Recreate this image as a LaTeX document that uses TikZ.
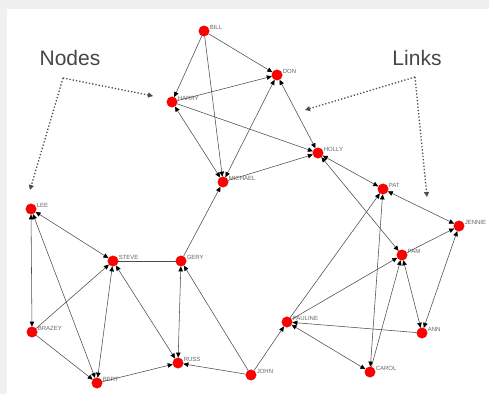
\documentclass[tikz,border=0pt]{standalone}
\usepackage{fontspec}
\setsansfont{Liberation Sans}
\usepackage{xcolor}
\usetikzlibrary{arrows.meta, positioning}

\begin{document}
\begin{tikzpicture}[
    x=1pt, y=-1pt,
    dot/.style={circle, fill=red, draw=red!85!black, line width=0.3pt, inner sep=0pt, minimum width=10.5pt},
    lbl/.style={font=\sffamily\fontsize{6}{7}\selectfont, text=gray!80!black, inner sep=0.3pt},
    lnk/.style={draw=gray!60!black, line width=0.55pt, -{Triangle[length=5pt, width=4.5pt, black]}},
    lnkb/.style={draw=gray!60!black, line width=0.55pt, {Triangle[length=5pt, width=4.5pt, black]}-{Triangle[length=5pt, width=4.5pt, black]}},
    plain/.style={draw=gray!60!black, line width=0.55pt},
    title/.style={font=\sffamily\fontsize{21}{24}\selectfont, text=gray!55!black},
    pointer/.style={draw=gray!60!black, line width=1.3pt, dotted, -{Triangle[length=5pt, width=5pt]}}
  ]
  \useasboundingbox (0,0) rectangle (489,394);
  \fill[gray!12] (0,0) rectangle (489,394);
  \fill[white] (7,9) rectangle (489,394);

  % People
  \node[dot, label={[lbl]10:BILL}]    (bill)    at (204, 31) {};
  \node[dot, label={[lbl]10:DON}]     (don)     at (277, 75) {};
  \node[dot, label={[lbl]10:HARRY}]   (harry)   at (172,102) {};
  \node[dot, label={[lbl]10:HOLLY}]   (holly)   at (318,153) {};
  \node[dot, label={[lbl]10:MICHAEL}] (michael) at (223,182) {};
  \node[dot, label={[lbl]10:PAT}]     (pat)     at (383,189) {};
  \node[dot, label={[lbl]10:JENNIE}]  (jennie)  at (459,226) {};
  \node[dot, label={[lbl]10:LEE}]     (lee)     at ( 31,209) {};
  \node[dot, label={[lbl]10:STEVE}]   (steve)   at (113,261) {};
  \node[dot, label={[lbl]10:GERY}]    (gery)    at (181,261) {};
  \node[dot, label={[lbl]10:PAM}]     (pam)     at (402,255) {};
  \node[dot, label={[lbl]10:PAULINE}] (pauline) at (287,322) {};
  \node[dot, label={[lbl]10:ANN}]     (ann)     at (422,333) {};
  \node[dot, label={[lbl]10:BRAZEY}]  (brazey)  at ( 32,332) {};
  \node[dot, label={[lbl]10:RUSS}]    (russ)    at (178,363) {};
  \node[dot, label={[lbl]10:JOHN}]    (john)    at (251,375) {};
  \node[dot, label={[lbl]10:CAROL}]   (carol)   at (370,372) {};
  \node[dot, label={[lbl]10:BERT}]    (bert)    at ( 97,383) {};

  % Links, top group
  \draw[lnk]  (bill) -- (harry);
  \draw[lnk]  (bill) -- (don);
  \draw[lnk]  (bill) -- (michael);
  \draw[lnk]  (harry) -- (don);
  \draw[lnk]  (harry) -- (holly);
  \draw[lnkb] (harry) -- (michael);
  \draw[lnkb] (don) -- (holly);
  \draw[lnkb] (don) -- (michael);
  \draw[lnk]  (michael) -- (holly);
  \draw[lnk]  (gery) -- (michael);

  % Links, right group
  \draw[lnkb] (holly) -- (pat);
  \draw[lnkb] (holly) -- (pam);
  \draw[lnkb] (pat) -- (jennie);
  \draw[lnk]  (pam) -- (jennie);
  \draw[lnk]  (pauline) -- (pat);
  \draw[lnkb] (carol) -- (pat);
  \draw[lnk]  (carol) -- (pam);
  \draw[lnk]  (pauline) -- (pam);
  \draw[lnkb] (pam) -- (ann);
  \draw[lnkb] (jennie) -- (ann);
  \draw[lnk]  (ann) -- (pauline);
  \draw[lnkb] (pauline) -- (carol);
  \draw[lnk]  (john) -- (pauline);

  % Links, left group
  \draw[lnk]  (john) -- (russ);
  \draw[lnk]  (john) -- (gery);
  \draw[lnkb] (gery) -- (russ);
  \draw[plain] (gery) -- (steve);
  \draw[lnkb] (steve) -- (russ);
  \draw[lnkb] (lee) -- (steve);
  \draw[lnkb] (lee) -- (brazey);
  \draw[lnkb] (lee) -- (bert);
  \draw[lnk]  (brazey) -- (steve);
  \draw[lnk]  (brazey) -- (bert);
  \draw[lnkb] (bert) -- (steve);
  \draw[lnk]  (bert) -- (russ);

  % Captions
  \node[title] (nodestxt) at ( 70,58) {Nodes};
  \node[title] (linkstxt) at (417,58) {Links};
  \coordinate (nc) at ( 63, 78);
  \coordinate (ne) at (153, 96);
  \coordinate (ns) at ( 30,190);
  \coordinate (lc) at (415, 77);
  \coordinate (le) at (305,110);
  \coordinate (ls) at (427,197);
  \draw[pointer] (nc) -- (ne);
  \draw[pointer] (nc) -- (ns);
  \draw[pointer] (lc) -- (le);
  \draw[pointer] (lc) -- (ls);
\end{tikzpicture}
\end{document}
